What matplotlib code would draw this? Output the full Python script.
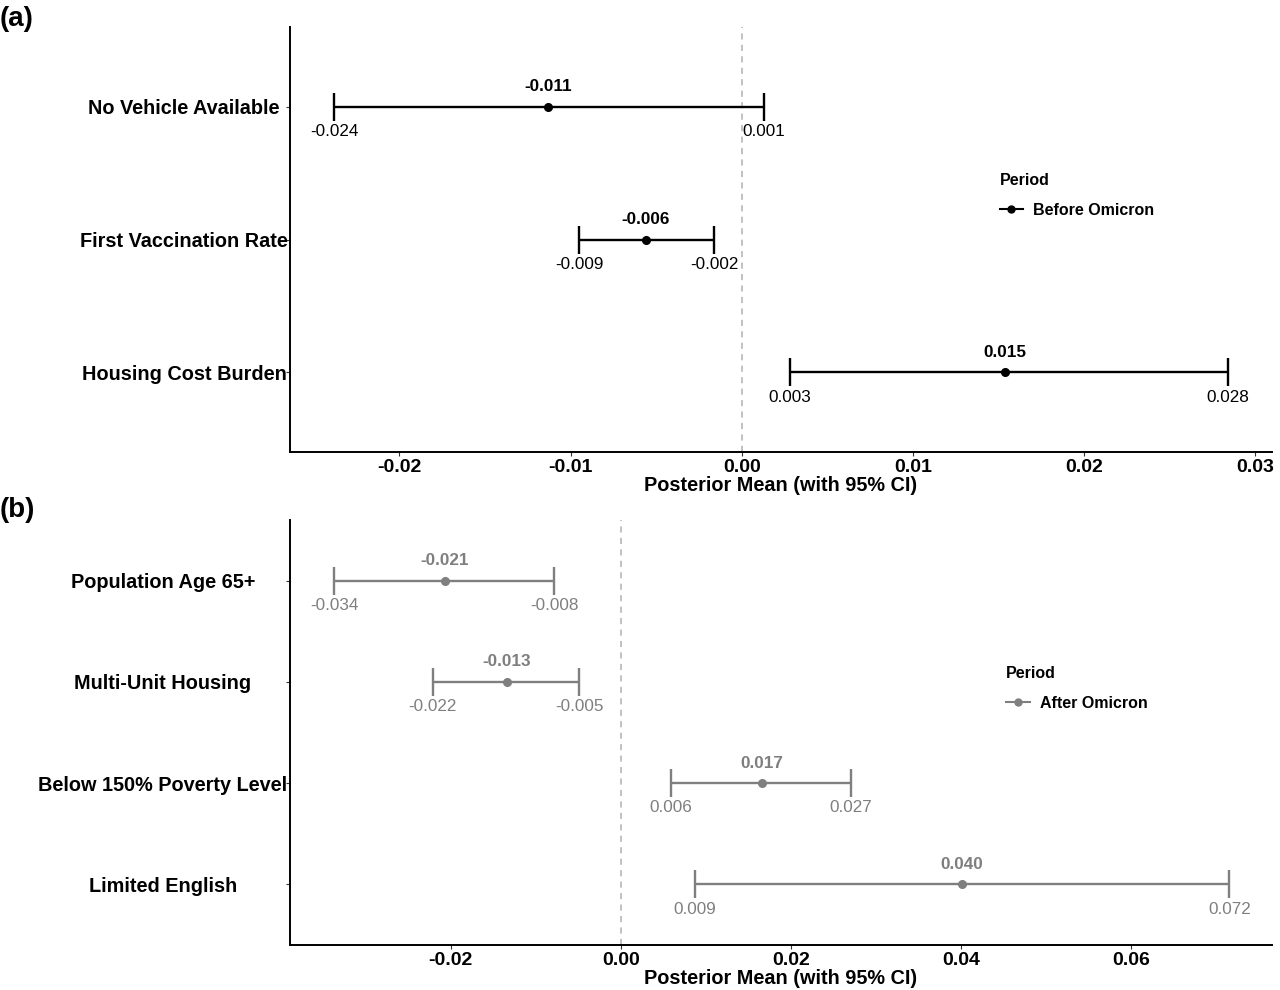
import matplotlib
matplotlib.use("Agg")
import matplotlib.pyplot as plt
from matplotlib.lines import Line2D

plt.rcParams['font.family'] = ['Liberation Sans', 'DejaVu Sans']

# Panel (a): Before Omicron
cats_a = ["No Vehicle Available", "First Vaccination Rate", "Housing Cost Burden"]
mean_a = [-0.0113, -0.0056, 0.0154]
low_a = [-0.0238, -0.0095, 0.0028]
high_a = [0.0013, -0.0016, 0.0284]

# Panel (b): After Omicron
cats_b = ["Population Age 65+", "Multi-Unit Housing", "Below 150% Poverty Level", "Limited English"]
mean_b = [-0.0207, -0.0134, 0.0166, 0.0401]
low_b = [-0.0337, -0.0221, 0.0059, 0.0087]
high_b = [-0.0078, -0.0049, 0.0271, 0.0716]

xticks_a = [-0.02, -0.01, 0.00, 0.01, 0.02, 0.03]
xticks_b = [-0.02, 0.00, 0.02, 0.04, 0.06]

W, H = 1280, 990
fig = plt.figure(figsize=(W / 100, H / 100), dpi=100)


def px_axes(l, t, r, b):
    return fig.add_axes([l / W, 1 - b / H, (r - l) / W, (b - t) / H])


def panel(ax, cats, mean, low, high, color, xticks, xlim, label_center_px,
          legend_label, legend_xy, tick_fmt):
    n = len(cats)
    ys = list(range(n))[::-1]  # first category on top
    for y, m, lo, hi in zip(ys, mean, low, high):
        ax.errorbar([m], [y], xerr=[[m - lo], [hi - m]], fmt='o', color=color,
                    ms=5.5, elinewidth=1.7, capsize=10, capthick=1.7, zorder=3)
        ax.annotate(f"{m:.3f}", (m, y), xytext=(0, 9), textcoords='offset points',
                    ha='center', va='bottom', fontsize=12.3, fontweight='bold', color=color)
        ax.annotate(f"{lo:.3f}", (lo, y), xytext=(0, -12.5), textcoords='offset points',
                    ha='center', va='top', fontsize=12.3, color=color)
        ax.annotate(f"{hi:.3f}", (hi, y), xytext=(0, -12.5), textcoords='offset points',
                    ha='center', va='top', fontsize=12.3, color=color)
    ax.axvline(0, color='#b0b0b0', lw=1.1, ls=(0, (4, 3.5)), zorder=1)
    ax.set_xlim(*xlim)
    ax.set_ylim(-0.6, n - 1 + 0.6)
    ax.set_yticks(ys)
    ax.set_yticklabels(cats, fontsize=14.3, fontweight='bold', ha='center')
    ax.set_xticks(xticks)
    ax.set_xticklabels([tick_fmt.format(v) for v in xticks], fontsize=14, fontweight='bold')
    ax.tick_params(axis='y', length=3, color='#333333', pad=(290 - 4.2 - label_center_px) * 0.72)
    ax.tick_params(axis='x', length=3, color='#333333', pad=2)
    for s in ['top', 'right']:
        ax.spines[s].set_visible(False)
    for s in ['left', 'bottom']:
        ax.spines[s].set_linewidth(1.4)
    ax.set_xlabel("Posterior Mean (with 95% CI)", fontsize=14.3, fontweight='bold', labelpad=0)
    handle = Line2D([0], [0], color=color, marker='o', ms=5, lw=1.5)
    leg = ax.legend([handle], [legend_label], title="Period", loc='upper left',
                    bbox_to_anchor=legend_xy, frameon=False, handlelength=1.5,
                    prop={'weight': 'bold', 'size': 11.5},
                    title_fontproperties={'weight': 'bold', 'size': 11.5},
                    borderaxespad=0, handletextpad=0.6, labelspacing=0.95)
    leg._legend_box.align = 'left'


ax_a = px_axes(290, 27, 1272, 452)
panel(ax_a, cats_a, mean_a, low_a, high_a, 'black', xticks_a, (-0.0264, 0.0310), 184,
      "Before Omicron", (0.716, 0.672), "{:.2f}")

ax_b = px_axes(290, 520, 1272, 945)
panel(ax_b, cats_b, mean_b, low_b, high_b, '#7f7f7f', xticks_b, (-0.0389, 0.0766), 163,
      "After Omicron", (0.723, 0.672), "{:.2f}")

fig.text(0 / W, 1 - 19 / H, "(a)", fontsize=20, fontweight='bold', va='center', ha='left')
fig.text(0 / W, 1 - 510 / H, "(b)", fontsize=20, fontweight='bold', va='center', ha='left')

fig.savefig("out.png", dpi=100)
